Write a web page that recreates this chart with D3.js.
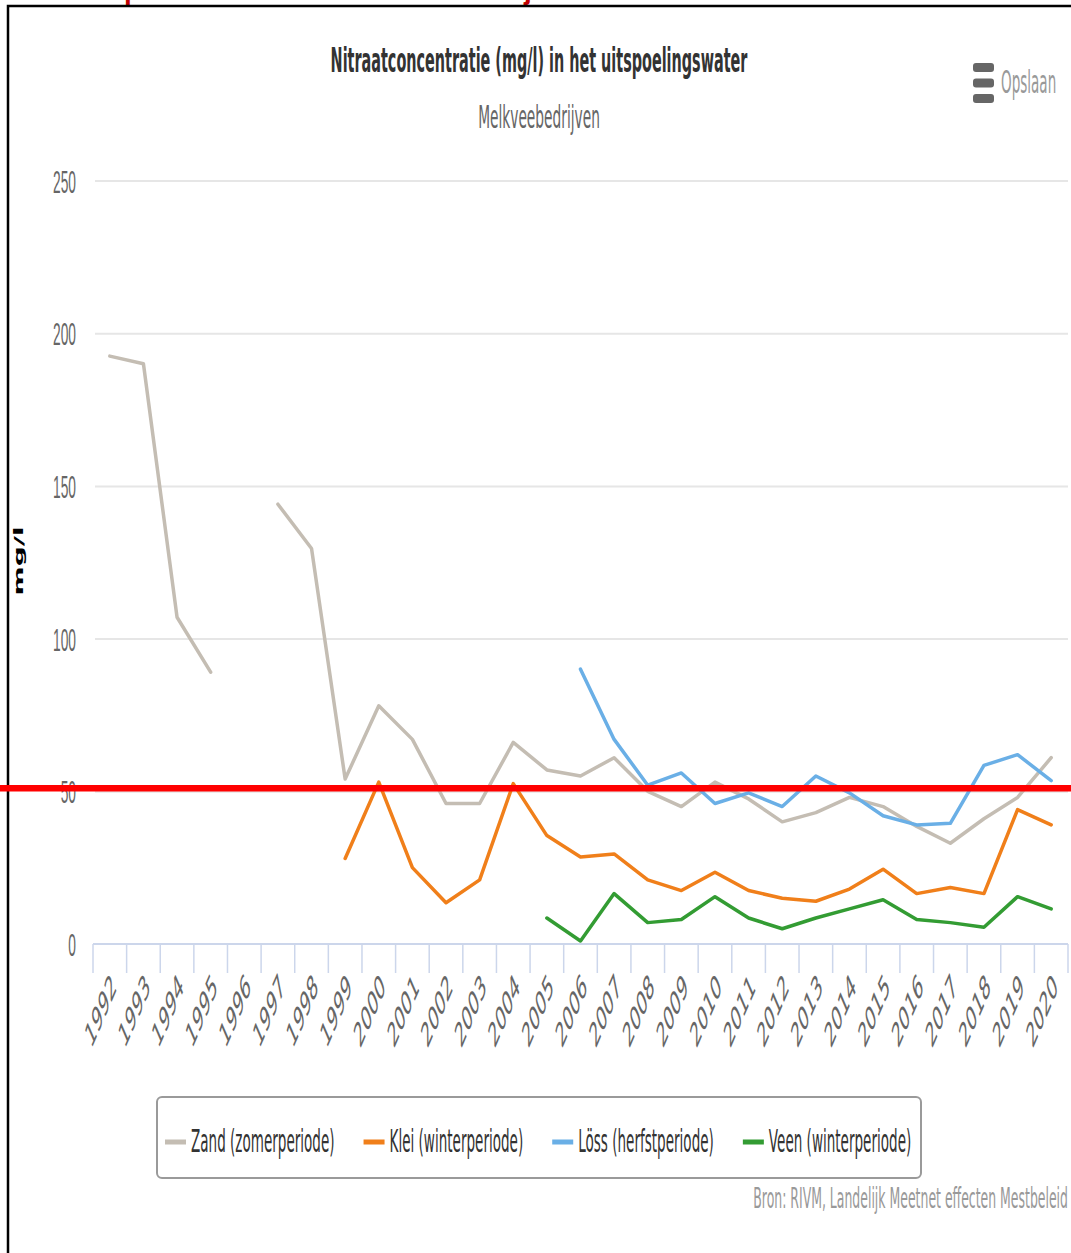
<!DOCTYPE html>
<html><head><meta charset="utf-8">
<script src="https://cdn.jsdelivr.net/npm/d3@7"></script>
<style>html,body{margin:0;padding:0;background:#fff;}svg{display:block;}</style>
</head><body>
<script>
const years = ["1992","1993","1994","1995","1996","1997","1998","1999","2000","2001","2002","2003","2004","2005","2006","2007","2008","2009","2010","2011","2012","2013","2014","2015","2016","2017","2018","2019","2020"];
const zand = [192.5,190,107,89,null,144,129.5,54,78,67,46,46,66,57,55,61,50,45,53,47.5,40,43,48,45,38.5,33,41,48,61];
const klei = [null,null,null,null,null,null,null,28,53,25,13.5,21,52.5,35.5,28.5,29.5,21,17.5,23.5,17.5,15,14,18,24.5,16.5,18.5,16.5,44,39];
const loss = [null,null,null,null,null,null,null,null,null,null,null,null,null,null,90,67,52,56,46,49.5,45,55,49.5,42,39,39.5,58.5,62,53.5];
const veen = [null,null,null,null,null,null,null,null,null,null,null,null,null,8.5,1,16.5,7,8,15.5,8.5,5,8.5,11.5,14.5,8,7,5.5,15.5,11.5];
const seriesNames = ["Zand (zomerperiode)","Klei (winterperiode)","Löss (herfstperiode)","Veen (winterperiode)"];
const seriesColors = ["#c4bdb3","#f07f1a","#6aafe6","#339c33"];
const yTicks = [0,50,100,150,200,250];
const normValue = 51;
const titleText = "Nitraatconcentratie (mg/l) in het uitspoelingswater";
const subtitleText = "Melkveebedrijven";
const yAxisTitle = "mg/l";
const sourceText = "Bron: RIVM, Landelijk Meetnet effecten Mestbeleid";
const menuText = "Opslaan";

const W = 1071, H = 1253, SX = 0.43;
const FONT = "'DejaVu Sans', Verdana, sans-serif";
const svg = d3.select("body").append("svg").attr("width", W).attr("height", H)
  .style("font-family", FONT);

const x = d3.scaleBand().domain(years).range([93, 1068]);
const cx = d => x(d) + x.bandwidth() / 2;
const y = d3.scaleLinear().domain([0, 250]).range([944, 180.5]);

function stext(parent, px, py, str, o) {
  const g = parent.append("g").attr("transform",
    `translate(${px},${py}) scale(${SX},1)` + (o.rotate ? ` rotate(${o.rotate})` : ""));
  return g.append("text").text(str)
    .attr("text-anchor", o.anchor || "start")
    .attr("dy", o.dy || 0)
    .style("font-size", o.size + "px")
    .style("font-weight", o.weight || "normal")
    .style("fill", o.fill || "#333");
}

// red descender fragments of an overlay heading above the crop
svg.append("text").attr("x", 124).attr("y", -1).text("p")
  .style("font-family","'Liberation Sans',Arial,sans-serif").style("font-weight","bold").style("font-size","28px").style("fill","#c00000");
svg.append("text").attr("x", 524).attr("y", -1).text("j")
  .style("font-family","'Liberation Sans',Arial,sans-serif").style("font-weight","bold").style("font-size","28px").style("fill","#c00000");

// frame
svg.append("path").attr("d", `M8,${H} L8,6 L${W},6`).attr("fill","none").attr("stroke","#000").attr("stroke-width",2.5);

// gridlines via axis
const yAxis = d3.axisLeft(y).tickValues(yTicks).tickSize(-(1068 - 95)).tickPadding(0).tickFormat(d3.format("d"));
const gy = svg.append("g").attr("transform", "translate(95,0)").call(yAxis);
gy.select(".domain").remove();
gy.selectAll(".tick line").attr("stroke", "#e6e6e6").attr("stroke-width", 2)
  .filter(d => d === 0).remove();
gy.selectAll(".tick text").remove();
gy.selectAll(".tick").each(function(d) {
  stext(d3.select(this), -19, 0, d, {anchor: "end", size: 32, fill: "#666", dy: "0.36em"});
});

// x axis
svg.append("line").attr("x1", 93).attr("x2", 1068).attr("y1", y(0)).attr("y2", y(0))
  .attr("stroke", "#ccd6eb").attr("stroke-width", 2);
const edges = years.map(d => x(d)).concat([x(years[years.length - 1]) + x.bandwidth()]);
svg.append("g").selectAll("line").data(edges).join("line")
  .attr("x1", d => d).attr("x2", d => d).attr("y1", y(0)).attr("y2", y(0) + 29)
  .attr("stroke", "#ccd6eb").attr("stroke-width", 1.5);
const gx = svg.append("g");
years.forEach(d => {
  stext(gx, cx(d) + 4, 980, d, {anchor: "end", rotate: -45, size: 34, fill: "#666", dy: "0.35em"});
});

// y axis title
stext(svg, 19, 561, yAxisTitle, {anchor: "middle", rotate: -90, size: 28, weight: "bold", fill: "#000", dy: "0.35em"});

// title, subtitle
stext(svg, 539, 72, titleText, {anchor: "middle", size: 33.5, weight: "bold", fill: "#333"});
stext(svg, 539, 128, subtitleText, {anchor: "middle", size: 32, fill: "#666"});

// menu button
const menu = svg.append("g");
[0, 1, 2].forEach(i => {
  menu.append("rect").attr("x", 973).attr("y", 63 + i * 15.5).attr("width", 21).attr("height", 9)
    .attr("rx", 3).attr("fill", "#666");
});
stext(svg, 1001, 93, menuText, {size: 31.5, fill: "#999"});

// series lines
const allSeries = [zand, klei, loss, veen];
const line = d3.line().defined(d => d.v !== null).x(d => cx(d.year)).y(d => y(d.v));
const gl = svg.append("g");
allSeries.forEach((s, i) => {
  const pts = s.map((v, j) => ({year: years[j], v}));
  gl.append("path").datum(pts).attr("d", line).attr("fill", "none")
    .attr("stroke", seriesColors[i]).attr("stroke-width", 3.5)
    .attr("stroke-linejoin", "round").attr("stroke-linecap", "round");
});

// legend
const lg = svg.append("g");
lg.append("rect").attr("x", 157).attr("y", 1097).attr("width", 921 - 157).attr("height", 1178 - 1097)
  .attr("rx", 5).attr("fill", "#fff").attr("stroke", "#9a9a9a").attr("stroke-width", 2);
let lx = 165;
seriesNames.forEach((n, i) => {
  lg.append("rect").attr("x", lx).attr("y", 1139.5).attr("width", 21).attr("height", 5).attr("fill", seriesColors[i]);
  const t = stext(lg, lx + 26, 1152, n, {size: 31.5, fill: "#333"});
  const w = t.node().getComputedTextLength() * SX;
  lx = lx + 26 + w + 29;
});

// source
stext(svg, 1068, 1208, sourceText, {anchor: "end", size: 29, fill: "#999"});

// red 50 norm line on top
svg.append("line").attr("x1", 0).attr("x2", W).attr("y1", y(normValue)).attr("y2", y(normValue))
  .attr("stroke", "#ff0000").attr("stroke-width", 6.5);
</script>
</body></html>
